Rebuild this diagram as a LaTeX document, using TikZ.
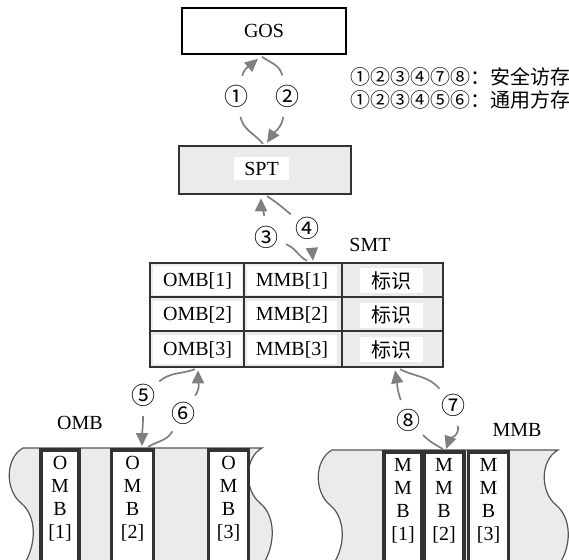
\documentclass[tikz,border=0pt]{standalone}
\usepackage{fontspec}
\setmainfont{Liberation Serif}
\newfontfamily\cjk{Noto Sans CJK SC}
\usetikzlibrary{arrows.meta,calc}
\definecolor{arrgray}{HTML}{7F7F7F}
\definecolor{boxgray}{HTML}{EBEBEB}
\definecolor{dark}{HTML}{333333}
\definecolor{edgegray}{HTML}{555555}
\begin{document}
\begin{tikzpicture}[x=1pt,y=-1pt,
  font=\fontsize{20}{23}\selectfont,
  conn/.style={draw=arrgray, line width=1.7pt},
  arr/.style={conn, -{Triangle[length=13pt,width=12pt]}},
  lab/.style={circle, minimum size=42pt, inner sep=0pt, font=\cjk\fontsize{24}{24}\selectfont},
  legend/.style={anchor=west, inner sep=0pt, font=\cjk\fontsize{20}{20}\selectfont},
  cell/.style={fill=white, inner sep=0pt, minimum height=29pt},
  tagcell/.style={fill=white, inner sep=0pt, minimum height=25pt, minimum width=63pt, font=\cjk\fontsize{20}{20}\selectfont},
  gridline/.style={draw=dark, line width=2.5pt},
  strip/.style={draw=edgegray, fill=boxgray, line width=1.2pt},
  obox/.style={draw=dark, fill=white, line width=3.5pt, anchor=north, minimum height=120pt, inner sep=0pt},
  otext/.style={anchor=north, align=center, inner sep=0pt, font=\fontsize{20}{23}\selectfont}
]
\useasboundingbox (0,0) rectangle (569,559);

% GOS and SPT
\node[draw, line width=1.5pt, minimum width=164pt, minimum height=46pt, inner sep=0pt] (gos) at (264,31) {GOS};
\node[draw=dark, fill=boxgray, line width=2.5pt, minimum width=172pt, minimum height=48pt, inner sep=0pt] (spt) at (265,170) {};
\node[fill=white, minimum width=55pt, minimum height=23pt, inner sep=0pt] (sptl) at (261.5,168.5) {SPT};

% legend
\node[legend] (leg1) at (350,77) {①②③④⑦⑧：安全访存};
\node[legend] (leg2) at (350,100) {①②③④⑤⑥：通用方存};

% SMT table
\node (smtl) at (370,245) {SMT};
\node[draw=dark, fill=boxgray, line width=2.5pt, minimum width=293pt, minimum height=104pt, inner sep=0pt] (smt) at (296.5,315) {};
\node[cell, minimum width=89pt] (o1) at (197.5,280.5) {OMB[1]};
\node[cell, minimum width=89pt] (o2) at (197.5,315) {OMB[2]};
\node[cell, minimum width=89pt] (o3) at (197.5,349.5) {OMB[3]};
\node[cell, minimum width=90pt] (m1) at (292,280.5) {MMB[1]};
\node[cell, minimum width=90pt] (m2) at (292,315) {MMB[2]};
\node[cell, minimum width=90pt] (m3) at (292,349.5) {MMB[3]};
\node[tagcell] (t1) at (391.5,280.5) {标识};
\node[tagcell] (t2) at (391.5,315) {标识};
\node[tagcell] (t3) at (391.5,349.5) {标识};
\draw[gridline] ($(smt.north west)+(0,35)$) -- ($(smt.north east)+(0,35)$);
\draw[gridline] ($(smt.north west)+(0,69)$) -- ($(smt.north east)+(0,69)$);
\draw[gridline] ($(smt.north west)+(95,0)$) -- ($(smt.south west)+(95,0)$);
\draw[gridline] ($(smt.north west)+(193,0)$) -- ($(smt.south west)+(193,0)$);
\node[draw=dark, line width=2.5pt, minimum width=293pt, minimum height=104pt, inner sep=0pt] (smtframe) at (296.5,315) {};

% OMB strip
\node (omblab) at (80,423) {OMB};
\draw[strip] (23,448) -- (262,448)
  .. controls (244,458) and (244,490) .. (260,503)
  .. controls (276,516) and (276,545) .. (262,566) -- (23,566)
  .. controls (37,545) and (37,516) .. (21,503)
  .. controls (5,490) and (5,458) .. (23,448) -- cycle;
\node[obox, minimum width=38pt] (ob1) at (60,448) {};
\node[obox, minimum width=42pt] (ob2) at (132.5,448) {};
\node[obox, minimum width=40pt] (ob3) at (228.5,448) {};
\node[otext] (ob1t) at ($(ob1.north)+(0,8)$) {O\\M\\B\\{[1]}};
\node[otext] (ob2t) at ($(ob2.north)+(0,8)$) {O\\M\\B\\{[2]}};
\node[otext] (ob3t) at ($(ob3.north)+(0,8)$) {O\\M\\B\\{[3]}};

% MMB strip
\node (mmblab) at (517,430) {MMB};
\draw[strip] (332,450) -- (558,450)
  .. controls (540,460) and (540,492) .. (556,505)
  .. controls (572,518) and (572,547) .. (558,566) -- (332,566)
  .. controls (346,547) and (346,518) .. (330,505)
  .. controls (314,492) and (314,460) .. (332,450) -- cycle;
\node[obox, minimum width=38pt] (mb1) at (403,450) {};
\node[obox, minimum width=40pt] (mb2) at (444,450) {};
\node[obox, minimum width=40pt] (mb3) at (488.5,450) {};
\node[otext] (mb1t) at ($(mb1.north)+(0,8)$) {M\\M\\B\\{[1]}};
\node[otext] (mb2t) at ($(mb2.north)+(0,8)$) {M\\M\\B\\{[2]}};
\node[otext] (mb3t) at ($(mb3.north)+(0,8)$) {M\\M\\B\\{[3]}};

% step labels
\node[lab] (l1) at (236,96) {①};
\node[lab] (l2) at (287,96) {②};
\node[lab] (l3) at (266,237) {③};
\node[lab] (l4) at (307,228) {④};
\node[lab] (l5) at (143,395) {⑤};
\node[lab] (l6) at (183,413) {⑥};
\node[lab] (l7) at (453,405) {⑦};
\node[lab] (l8) at (408,420) {⑧};

% connectors
\draw[arr] ($(spt.north)+(-2,-1)$) to[out=130,in=-78] (l1)
  (l1) to[out=73,in=221] ($(gos.south)+(-6,4)$);
\draw[arr] ($(gos.south)+(-2,2)$) to[out=-36,in=103] (l2)
  (l2) to[out=-100,in=56] ($(spt.north)+(2,-2)$);
\draw[arr] ($(smt.north)+(10.5,-1)$) to[out=153,in=-20] (l3)
  (l3) to[out=95,in=-90] ($(spt.south)+(-4,3)$);
\draw[arr] ($(spt.south)+(2,1)$) to[out=-32,in=140] (l4)
  (l4) to[out=-85,in=95] ($(smt.north)+(16.5,-1)$);
\draw[arr] ($(smt.south)+(-101.5,1)$) to[out=200,in=40] (l5)
  (l5) to[out=-90,in=90] ($(ob2.north)+(9.5,-2)$);
\draw[arr] ($(ob2.north)+(15.5,-1)$) to[out=33,in=-120] (l6)
  (l6) to[out=55,in=-90] ($(smt.south)+(-98.5,2)$);
\draw[arr] ($(smt.south)+(103.5,1)$) to[out=-27,in=130] (l7)
  (l7) to[out=-77,in=70] ($(mb2.north)+(2,-1)$);
\draw[arr] ($(mb2.north)+(-1,-1)$) to[out=151,in=-45] (l8)
  (l8) to[out=110,in=-80] ($(smt.south)+(98.5,2)$);
\end{tikzpicture}
\end{document}
